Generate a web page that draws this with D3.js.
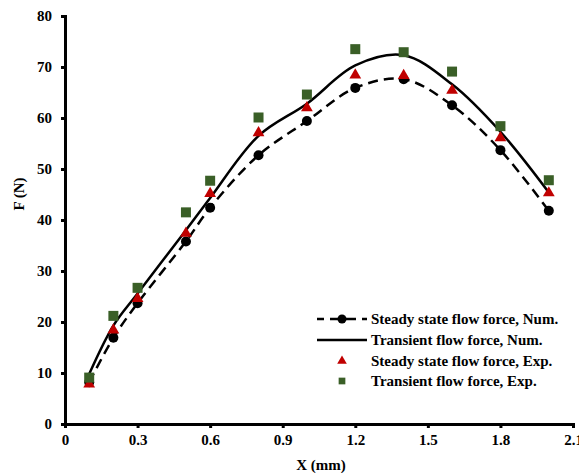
<!DOCTYPE html>
<html>
<head>
<meta charset="utf-8">
<script src="https://cdn.jsdelivr.net/npm/d3@7"></script>
<style>
	body { margin: 0; background: #fff; }
	text { font-family: "Liberation Serif", "Times New Roman", serif; font-weight: bold; }
</style>
</head>
<body>
<div id="chart"></div>
<script>
// x positions (mm)
const xValues = [0.1, 0.2, 0.3, 0.5, 0.6, 0.8, 1.0, 1.2, 1.4, 1.6, 1.8, 2.0];

// flow force (N)
const steadyNum = [8.2, 16.9, 23.7, 35.8, 42.4, 52.7, 59.4, 65.9, 67.6, 62.5, 53.7, 41.8];
const transientNum = [9.8, 19.3, 25.6, 38.0, 44.3, 56.5, 62.8, 70.3, 72.3, 66.6, 57.3, 45.4];
const steadyExp = [7.8, 18.4, 24.6, 37.4, 45.2, 57.1, 62.0, 68.4, 68.3, 65.4, 56.1, 45.3];
const transientExp = [9.1, 21.2, 26.7, 41.5, 47.7, 60.1, 64.6, 73.5, 72.9, 69.1, 58.4, 47.8];

const xTicks = [0, 0.3, 0.6, 0.9, 1.2, 1.5, 1.8, 2.1];
const yTicks = [0, 10, 20, 30, 40, 50, 60, 70, 80];

const legendLabels = [
	"Steady state flow force, Num.",
	"Transient flow force, Num.",
	"Steady state flow force, Exp.",
	"Transient flow force, Exp."
];

const red = "#c00000";
const green = "#3a5f27";
const serif = "'Liberation Serif', 'Times New Roman', serif";

const width = 579, height = 473;
const margin = { top: 16, right: 6, bottom: 49, left: 65 };

const svg = d3.select("#chart").append("svg")
	.attr("width", width)
	.attr("height", height);

const x = d3.scaleLinear().domain([0, 2.1]).range([margin.left, width - margin.right]);
const y = d3.scaleLinear().domain([0, 80]).range([height - margin.bottom, margin.top]);

// axes
const xAxis = svg.append("g")
	.attr("transform", "translate(0," + y(0) + ")")
	.call(d3.axisBottom(x).tickValues(xTicks).tickSize(4).tickPadding(6)
		.tickFormat(d => d === 0 ? "0" : d3.format(".1f")(d)));
const yAxis = svg.append("g")
	.attr("transform", "translate(" + x(0) + ",0)")
	.call(d3.axisLeft(y).tickValues(yTicks).tickSize(4).tickPadding(9));

[xAxis, yAxis].forEach(a => {
	a.attr("font-family", serif).attr("font-size", 15);
	a.select(".domain").attr("stroke", "#000").attr("stroke-width", 3);
	a.selectAll(".tick line").attr("stroke", "#000").attr("stroke-width", 3);
	a.selectAll(".tick text")
		.attr("fill", "#000")
		.style("font-size", "15px")
		.style("font-family", serif)
		.style("font-weight", "bold");
});

// axis titles
svg.append("text")
	.attr("x", (x(0) + x(2.1)) / 2 + 2)
	.attr("y", 470)
	.attr("text-anchor", "middle")
	.style("font-family", serif)
	.style("font-size", "15px")
	.text("X (mm)");

svg.append("text")
	.attr("transform", "translate(24," + 194 + ") rotate(-90)")
	.attr("text-anchor", "middle")
	.style("font-family", serif)
	.style("font-size", "15px")
	.text("F (N)");

// lines
const line = vals => d3.line()
	.x((d, i) => x(xValues[i]))
	.y(d => y(d))
	.curve(d3.curveCatmullRom.alpha(0.5))(vals);

svg.append("path")
	.attr("d", line(steadyNum))
	.attr("fill", "none")
	.attr("stroke", "#000")
	.attr("stroke-width", 2.5)
	.attr("stroke-dasharray", "10,6");

svg.append("path")
	.attr("d", line(transientNum))
	.attr("fill", "none")
	.attr("stroke", "#000")
	.attr("stroke-width", 2.5);

const tri = d3.symbol().type(d3.symbolTriangle).size(60);
const sq = d3.symbol().type(d3.symbolSquare).size(100);

// points
svg.append("g").selectAll("circle")
	.data(steadyNum)
	.enter().append("circle")
	.attr("cx", (d, i) => x(xValues[i]))
	.attr("cy", d => y(d))
	.attr("r", 5)
	.attr("fill", "#000");

svg.append("g").selectAll("path")
	.data(steadyExp)
	.enter().append("path")
	.attr("d", tri)
	.attr("transform", (d, i) => "translate(" + x(xValues[i]) + "," + y(d) + ")")
	.attr("fill", red);

svg.append("g").selectAll("path")
	.data(transientExp)
	.enter().append("path")
	.attr("d", sq)
	.attr("transform", (d, i) => "translate(" + x(xValues[i]) + "," + y(d) + ")")
	.attr("fill", green);

// legend
const legend = svg.append("g");
const rowY = [319, 340, 361, 381];
const lx0 = 317, lx1 = 367, lmid = 342;

legend.append("line")
	.attr("x1", lx0).attr("x2", lx1).attr("y1", rowY[0]).attr("y2", rowY[0])
	.attr("stroke", "#000").attr("stroke-width", 2.5).attr("stroke-dasharray", "10,6")
	.attr("stroke-dashoffset", 3);
legend.append("circle").attr("cx", lmid).attr("cy", rowY[0]).attr("r", 4.5).attr("fill", "#000");

legend.append("line")
	.attr("x1", lx0).attr("x2", lx1).attr("y1", rowY[1]).attr("y2", rowY[1])
	.attr("stroke", "#000").attr("stroke-width", 2.5);

legend.append("path")
	.attr("d", d3.symbol().type(d3.symbolTriangle).size(40))
	.attr("transform", "translate(" + lmid + "," + rowY[2] + ")")
	.attr("fill", red);

legend.append("path")
	.attr("d", d3.symbol().type(d3.symbolSquare).size(45))
	.attr("transform", "translate(" + lmid + "," + rowY[3] + ")")
	.attr("fill", green);

legend.selectAll("text")
	.data(legendLabels)
	.enter().append("text")
	.attr("x", 371)
	.attr("y", (d, i) => rowY[i])
	.attr("dy", "0.35em")
	.style("font-family", serif)
	.style("font-size", "15px")
	.text(d => d);
</script>
</body>
</html>
